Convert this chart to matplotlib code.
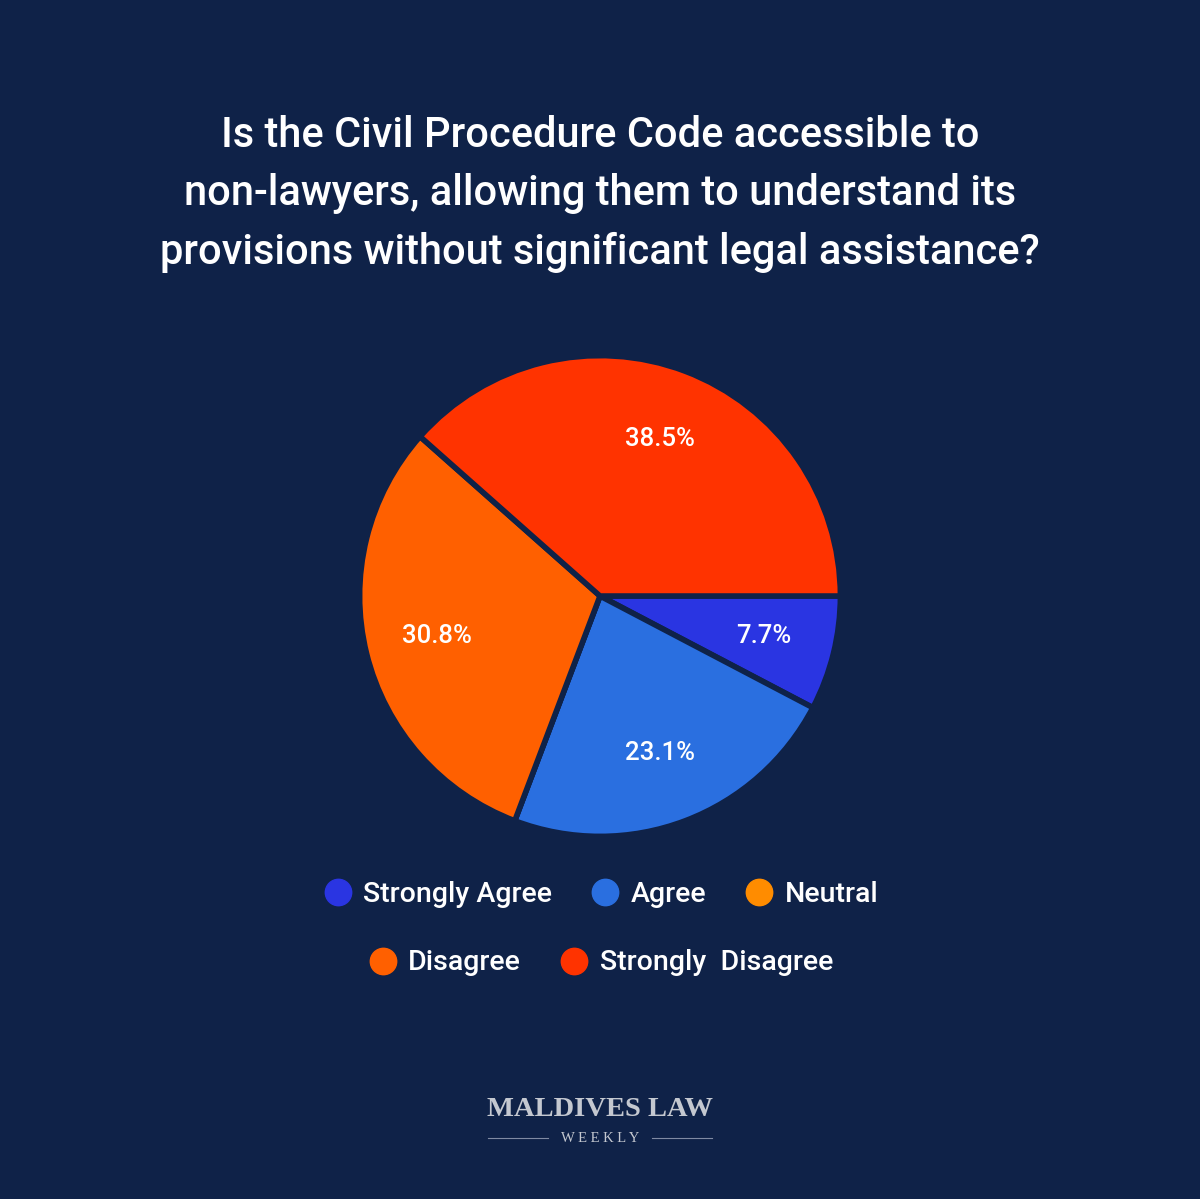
import numpy as np
import matplotlib.pyplot as plt
from matplotlib.lines import Line2D

# survey answers (share of respondents, %)
categories = ['Strongly Agree', 'Agree', 'Neutral', 'Disagree', 'Strongly  Disagree']
values = [7.69, 23.08, 0.0, 30.77, 38.46]
colors = ['#2a35e2', '#2a6fe0', '#ff8c00', '#ff6000', '#ff3300']

bg = '#0f2248'
title = ('Is the Civil Procedure Code accessible to\n'
         'non-lawyers, allowing them to understand its\n'
         'provisions without significant legal assistance?')

plt.rcParams['font.family'] = ['Roboto', 'DejaVu Sans']

fig = plt.figure(figsize=(12, 11.99), dpi=100, facecolor=bg)

# title
fig.text(0.5, 1 - 194 / 1199, title, ha='center', va='center', color='white',
         fontsize=30, fontweight='medium', linespacing=1.54)

# pie
R = 238
ax = fig.add_axes([(600 - R * 1.05) / 1200, (1199 - 596 - R * 1.05) / 1199,
                   2 * R * 1.05 / 1200, 2 * R * 1.05 / 1199])
ax.set_facecolor(bg)


def fmt(p):
    return '' if p < 0.5 else '%.1f%%' % p


wedges, texts, autotexts = ax.pie(values, colors=colors, startangle=0, counterclock=False,
                                  autopct=fmt, pctdistance=0.7, radius=1.01,
                                  wedgeprops=dict(edgecolor=bg, linewidth=4),
                                  textprops=dict(color='white', fontsize=18.5, fontweight='medium'))
ax.set_xlim(-1.05, 1.05)
ax.set_ylim(-1.05, 1.05)
ax.set_aspect('equal')
ax.axis('off')

# legend in two centred rows
def handles(idx):
    return [Line2D([], [], marker='o', linestyle='', markersize=19,
                   markerfacecolor=colors[i], markeredgecolor=colors[i]) for i in idx]

legend_kw = dict(loc='center', frameon=False, labelcolor='white',
                 prop=dict(family=['Roboto'], size=20.5, weight='medium'),
                 handletextpad=0.35, columnspacing=1.3, handlelength=1.1)
fig.legend(handles([0, 1, 2]), [categories[i] for i in [0, 1, 2]], ncol=3,
           bbox_to_anchor=(0.5, 1 - 894 / 1199), **legend_kw)
fig.legend(handles([3, 4]), [categories[i] for i in [3, 4]], ncol=2,
           bbox_to_anchor=(0.5, 1 - 963 / 1199), **legend_kw)

# logo
logo = '#c4c8d0'
fig.text(0.5, 1 - 1109 / 1199, 'MALDIVES LAW', ha='center', va='center', color=logo,
         fontsize=20.5, family='Liberation Serif', fontweight='bold')
fig.text(0.5, 1 - 1138 / 1199, 'W E E K L Y', ha='center', va='center', color=logo,
         fontsize=10.5, family='Liberation Serif')
y = 1 - 1138 / 1199
fig.add_artist(Line2D([488 / 1200, 548 / 1200], [y, y], color='#7f8aa3', lw=0.8))
fig.add_artist(Line2D([652 / 1200, 712 / 1200], [y, y], color='#7f8aa3', lw=0.8))

fig.savefig('out.png', dpi=100, facecolor=bg)
